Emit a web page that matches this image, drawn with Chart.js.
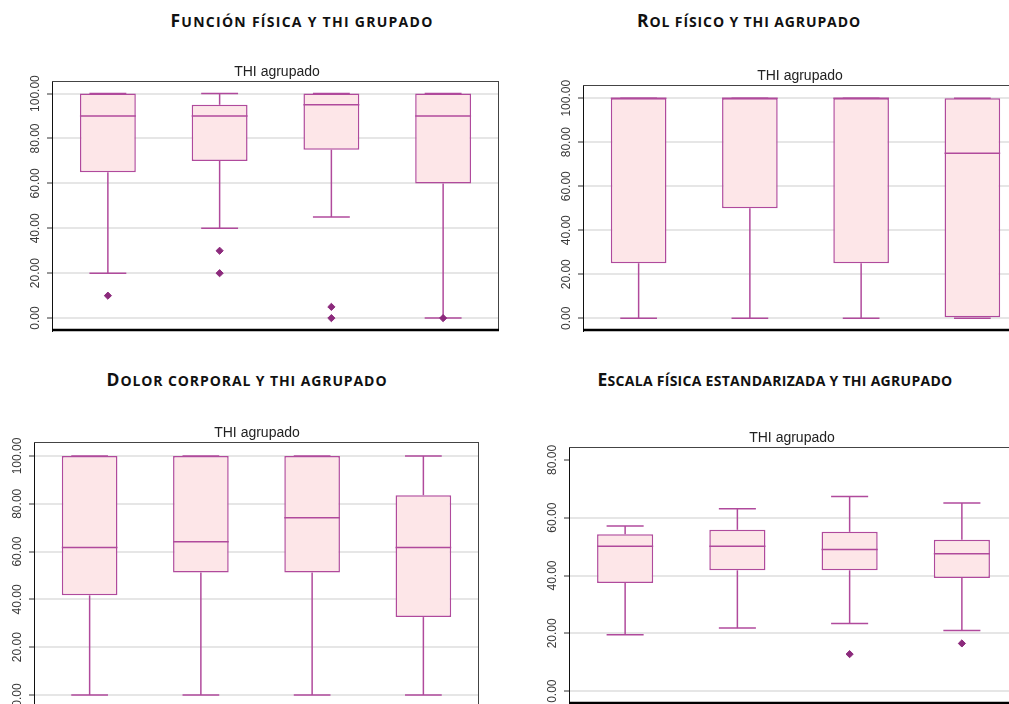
<!DOCTYPE html>
<html lang="es">
<head>
<meta charset="utf-8">
<title>Componentes físicos del SF-36 según THI agrupado</title>
<script src="https://cdn.jsdelivr.net/npm/chart.js@4.4.1/dist/chart.umd.min.js"></script>
<style>
  html, body { margin: 0; padding: 0; background: #fff; width: 1009px; height: 704px; overflow: hidden; }
  body { position: relative; }
  .heading {
    position: absolute; transform: translate(-50%, -50%);
    font-family: "Open Sans", Lato, sans-serif; font-weight: 700;
    color: #111; white-space: nowrap; line-height: 1;
  }
  .heading .cap { font-size: 17.5px; }
  .heading .sc { font-size: 14px; text-transform: uppercase; }
  canvas { position: absolute; }
</style>
</head>
<body>
<div class="heading" data-w="263" style="left:302px; top:21px;"><span class="cap">F</span><span class="sc">unción física y thi grupado</span></div>
<div class="heading" data-w="224" style="left:749px; top:21px;"><span class="cap">R</span><span class="sc">ol físico y thi agrupado</span></div>
<div class="heading" data-w="281" style="left:247px; top:380px;"><span class="cap">D</span><span class="sc">olor corporal y thi agrupado</span></div>
<div class="heading" data-w="355" style="left:775px; top:380px;"><span class="cap">E</span><span class="sc">scala física estandarizada y thi agrupado</span></div>

<canvas id="c1"></canvas>
<canvas id="c2"></canvas>
<canvas id="c3"></canvas>
<canvas id="c4"></canvas>

<script>
// Grupos de THI (eje horizontal sin etiquetas)
const groups = ['1', '2', '3', '4'];
const axisTitle = 'THI agrupado';

// Función física
const ffUpper = [100, 100, 100, 100];
const ffQ3 = [100, 95, 100, 100];
const ffMedian = [90, 90, 95, 90];
const ffQ1 = [65, 70, 75, 60];
const ffLower = [20, 40, 45, 0];
const ffOutliers = [[10], [30, 20], [5, 0], [0]];
const ffTicks = [0, 20, 40, 60, 80, 100];

// Rol físico
const rfUpper = [100, 100, 100, 100];
const rfQ3 = [100, 100, 100, 100];
const rfMedian = [100, 100, 100, 75];
const rfQ1 = [25, 50, 25, 0];
const rfLower = [0, 0, 0, 0];
const rfOutliers = [[], [], [], []];
const rfTicks = [0, 20, 40, 60, 80, 100];

// Dolor corporal
const dcUpper = [100, 100, 100, 100];
const dcQ3 = [100, 100, 100, 83.6];
const dcMedian = [61.7, 64.1, 74.2, 61.7];
const dcQ1 = [41.7, 51.3, 51.3, 32.6];
const dcLower = [0, 0, 0, 0];
const dcOutliers = [[], [], [], []];
const dcTicks = [0, 20, 40, 60, 80, 100];

// Escala física estandarizada
const efUpper = [57.1, 63.1, 67.3, 65.1];
const efQ3 = [54.3, 55.8, 55.1, 52.4];
const efMedian = [50.1, 50.1, 49.0, 47.5];
const efQ1 = [37.4, 41.8, 41.8, 39.1];
const efLower = [19.5, 21.8, 23.4, 21.0];
const efOutliers = [[], [], [12.8], [16.5]];
const efTicks = [0, 20, 40, 60, 80];

const BOX_LINE = '#b04a9c';
const BOX_FILL = '#fde6e8';
const OUTLIER = '#8c2a7c';

// Adjust each heading's tracking so it spans its set width
document.querySelectorAll('.heading').forEach(h => {
  const target = +h.dataset.w;
  const chars = h.textContent.length;
  const natural = h.getBoundingClientRect().width;
  const ls = (target - natural) / chars;
  h.style.letterSpacing = ls.toFixed(2) + 'px';
});

// Whiskers (behind the boxes), medians and frame (on top)
const boxplotPlugin = {
  id: 'boxplotParts',
  beforeDatasetsDraw(chart) {
    const s = chart.$stats; if (!s) return;
    const x = chart.scales.x, y = chart.scales.y, ctx = chart.ctx;
    const cat = x.width / groups.length;
    const capHalf = cat * 0.165;
    ctx.save();
    ctx.strokeStyle = BOX_LINE; ctx.lineWidth = 1.5;
    groups.forEach((g, i) => {
      const cx = x.getPixelForValue(i);
      const seg = (a, b) => { ctx.beginPath(); ctx.moveTo(cx, y.getPixelForValue(a)); ctx.lineTo(cx, y.getPixelForValue(b)); ctx.stroke(); };
      const cap = v => { const py = y.getPixelForValue(v); ctx.beginPath(); ctx.moveTo(cx - capHalf, py); ctx.lineTo(cx + capHalf, py); ctx.stroke(); };
      if (s.upper[i] > s.q3[i]) { seg(s.q3[i], s.upper[i]); }
      cap(s.upper[i]);
      if (s.lower[i] < s.q1[i]) { seg(s.q1[i], s.lower[i]); }
      cap(s.lower[i]);
    });
    ctx.restore();
  },
  afterDatasetsDraw(chart) {
    const s = chart.$stats; if (!s) return;
    const y = chart.scales.y, ctx = chart.ctx;
    const meta = chart.getDatasetMeta(0);
    ctx.save();
    ctx.strokeStyle = BOX_LINE; ctx.lineWidth = 1.5;
    meta.data.forEach((bar, i) => {
      const py = y.getPixelForValue(s.median[i]);
      ctx.beginPath(); ctx.moveTo(bar.x - bar.width / 2, py); ctx.lineTo(bar.x + bar.width / 2, py); ctx.stroke();
    });
    ctx.restore();
  },
  afterDraw(chart) {
    const a = chart.chartArea, ctx = chart.ctx, y = chart.scales.y;
    ctx.save();
    // frame
    ctx.strokeStyle = '#444'; ctx.lineWidth = 1;
    ctx.beginPath(); ctx.moveTo(a.left, a.top + 0.5); ctx.lineTo(a.right, a.top + 0.5); ctx.stroke();
    ctx.beginPath(); ctx.moveTo(a.right - 0.5, a.top); ctx.lineTo(a.right - 0.5, a.bottom); ctx.stroke();
    ctx.strokeStyle = '#000'; ctx.lineWidth = 2.5;
    ctx.beginPath(); ctx.moveTo(a.left, a.bottom - 1); ctx.lineTo(a.right, a.bottom - 1); ctx.stroke();
    // rotated tick labels
    ctx.fillStyle = '#3a3a3a';
    ctx.font = '12px "Liberation Sans", Arial, sans-serif';
    ctx.textAlign = 'center'; ctx.textBaseline = 'middle';
    y.ticks.forEach(t => {
      const py = y.getPixelForValue(t.value);
      ctx.save();
      ctx.translate(a.left - 16, py);
      ctx.rotate(-Math.PI / 2);
      ctx.fillText(t.value.toFixed(2), 0, 0);
      ctx.restore();
    });
    // group axis title
    ctx.fillStyle = '#222';
    ctx.font = '14px "Liberation Sans", Arial, sans-serif';
    ctx.textAlign = 'center'; ctx.textBaseline = 'alphabetic';
    const tx = chart.$titleX != null ? chart.$titleX : (a.left + a.right) / 2;
    ctx.fillText(axisTitle, tx, a.top - 5.5);
    ctx.restore();
  }
};

// frame: plot-area rectangle in page pixels; yMin/yMax: axis range; titleX: page x of the axis title
function boxChart(id, frame, titleX, yMin, yMax, tickValues, upper, q3, median, q1, lower, outliers, hiddenGrid) {
  const padL = 30, axisW = 20, padT = 30, padR = 2, padB = 3;
  const cv = document.getElementById(id);
  const originX = frame.l - padL - axisW;
  cv.width = (frame.r - frame.l) + padL + axisW + padR;
  cv.height = (frame.b - frame.t) + padT + padB;
  cv.style.left = originX + 'px';
  cv.style.top = (frame.t - padT) + 'px';

  const points = [];
  outliers.forEach((list, i) => list.forEach(v => points.push({ x: groups[i], y: v })));

  const chart = new Chart(cv, {
    type: 'bar',
    data: {
      labels: groups,
      datasets: [
        {
          type: 'bar',
          data: q1.map((v, i) => [v, q3[i]]),
          backgroundColor: BOX_FILL,
          borderColor: BOX_LINE,
          borderWidth: 1.5,
          borderSkipped: false,
          barPercentage: 0.5,
          categoryPercentage: 1.0
        },
        {
          type: 'line',
          data: points,
          showLine: false,
          pointStyle: 'rectRot',
          pointRadius: 3.6,
          pointBackgroundColor: OUTLIER,
          pointBorderColor: OUTLIER,
          pointBorderWidth: 1
        }
      ]
    },
    options: {
      responsive: false,
      animation: false,
      devicePixelRatio: 1,
      layout: { padding: { left: padL, top: padT, right: padR, bottom: padB } },
      plugins: { legend: { display: false }, tooltip: { enabled: false }, title: { display: false } },
      scales: {
        x: { type: 'category', display: false, offset: true },
        y: {
          min: yMin, max: yMax,
          afterBuildTicks: s => { s.ticks = tickValues.map(v => ({ value: v })); },
          afterFit: s => { s.width = axisW; },
          ticks: { display: false },
          grid: {
            color: ctx => (hiddenGrid.includes(ctx.tick && ctx.tick.value) ? 'rgba(0,0,0,0)' : '#e6e6e6'),
            lineWidth: 2,
            drawTicks: true, tickLength: 5, tickColor: '#333', tickWidth: 1
          },
          border: { display: true, color: '#111', width: 1 }
        }
      }
    },
    plugins: [boxplotPlugin]
  });
  chart.$stats = { upper, q3, median, q1, lower };
  chart.$titleX = titleX - originX;
  chart.draw();
  return chart;
}

boxChart('c1', { l: 52, t: 81, r: 502, b: 333 }, 277, -5.74, 105.6, ffTicks,
  ffUpper, ffQ3, ffMedian, ffQ1, ffLower, ffOutliers, []);
boxChart('c2', { l: 583, t: 85, r: 1028, b: 331 }, 800, -5.8, 106.0, rfTicks,
  rfUpper, rfQ3, rfMedian, rfQ1, rfLower, rfOutliers, []);
boxChart('c3', { l: 34, t: 442, r: 479, b: 709 }, 257, -5.85, 105.85, dcTicks,
  dcUpper, dcQ3, dcMedian, dcQ1, dcLower, dcOutliers, []);
boxChart('c4', { l: 569, t: 447, r: 1021, b: 706 }, 792, -4.45, 84.45, efTicks,
  efUpper, efQ3, efMedian, efQ1, efLower, efOutliers, [80]);
</script>
</body>
</html>
